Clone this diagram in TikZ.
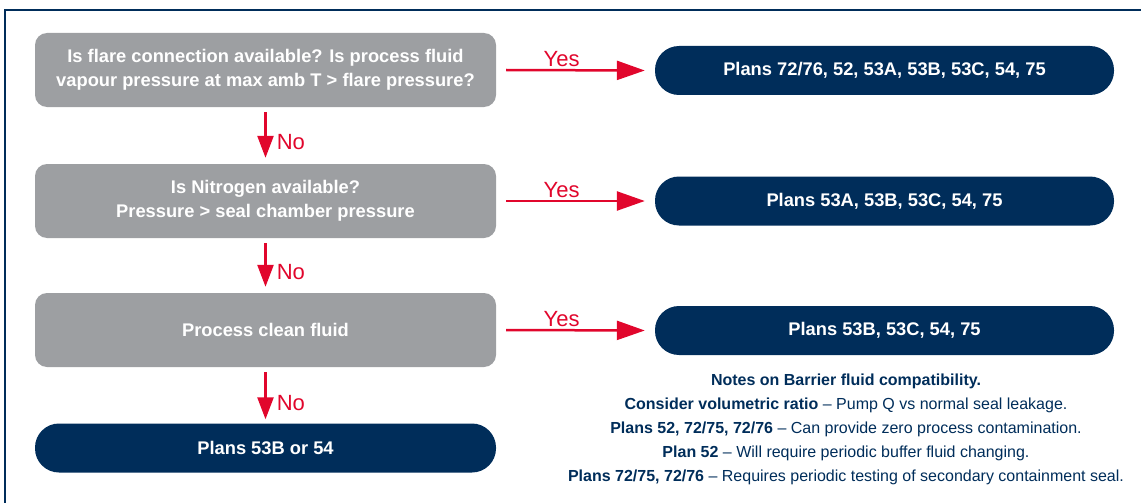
\documentclass[tikz,border=0pt]{standalone}
\usepackage{fontspec}
\setmainfont{Liberation Sans}
\usetikzlibrary{arrows.meta}
\definecolor{navy}{HTML}{002D5A}
\definecolor{qgray}{HTML}{9D9FA2}
\definecolor{qred}{HTML}{E1062C}
\begin{document}
\begin{tikzpicture}[x=1pt,y=-1pt,
 qbox/.style={fill=qgray, rounded corners=12pt, minimum width=461pt, minimum height=74pt, text=white, font=\bfseries\fontsize{18.3}{24}\selectfont, align=center, inner sep=0pt},
 pbox/.style={fill=navy, rounded corners=24pt, minimum width=459pt, minimum height=49pt, text=white, font=\bfseries\fontsize{18.3}{20}\selectfont, inner sep=0pt},
 yesarrow/.style={draw=qred, line width=2.5pt, -{Triangle[length=28pt,width=19pt,fill=qred]}},
 noarrow/.style={draw=qred, line width=2.5pt, -{Triangle[length=22pt,width=16pt,fill=qred]}},
 lbl/.style={text=qred, font=\fontsize{22}{22}\selectfont, inner sep=2pt},
 notes/.style={text=navy, align=center, font=\fontsize{16}{24}\selectfont},
]
\useasboundingbox (0,0) rectangle (1141,503);
\draw[navy, line width=2pt] (5,503) -- (5,10) -- (1141,10);

\node[qbox] (q1) at (265.5,70) {Is flare connection available? Is process fluid\\vapour pressure at max amb T > flare pressure?};
\node[qbox] (q2) at (265.5,201) {Is Nitrogen available?\\Pressure > seal chamber pressure};
\node[qbox] (q3) at (265.5,330) {Process clean fluid};
\node[pbox, minimum width=461pt] (f) at (265.5,448) {Plans 53B or 54};

\node[pbox] (p1) at (884.5,70.5) {Plans 72/76, 52, 53A, 53B, 53C, 54, 75};
\node[pbox] (p2) at (884.5,201) {Plans 53A, 53B, 53C, 54, 75};
\node[pbox] (p3) at (884.5,330.5) {Plans 53B, 53C, 54, 75};

\draw[yesarrow] ([xshift=10pt]q1.east) -- node[lbl, pos=0.4, above] {Yes} ([xshift=-10pt]p1.west);
\draw[yesarrow] ([xshift=10pt]q2.east) -- node[lbl, pos=0.4, above] {Yes} ([xshift=-10pt]p2.west);
\draw[yesarrow] ([xshift=10pt]q3.east) -- node[lbl, pos=0.4, above] {Yes} ([xshift=-10pt]p3.west);

\draw[noarrow] ([yshift=-5pt]q1.south) -- node[lbl, pos=0.65, right=8pt] {No} ([yshift=6pt]q2.north);
\draw[noarrow] ([yshift=-5pt]q2.south) -- node[lbl, pos=0.65, right=8pt] {No} ([yshift=6pt]q3.north);
\draw[noarrow] ([yshift=-5pt]q3.south) -- node[lbl, pos=0.65, right=8pt] {No} ([yshift=4pt]f.north);

\node[notes] (n) at (846,429) {\textbf{Notes on Barrier fluid compatibility.}\\
\textbf{Consider volumetric ratio} – Pump Q vs normal seal leakage.\\
\textbf{Plans 52, 72/75, 72/76} – Can provide zero process contamination.\\
\textbf{Plan 52} – Will require periodic buffer fluid changing.\\
\textbf{Plans 72/75, 72/76} – Requires periodic testing of secondary containment seal.};
\end{tikzpicture}
\end{document}
